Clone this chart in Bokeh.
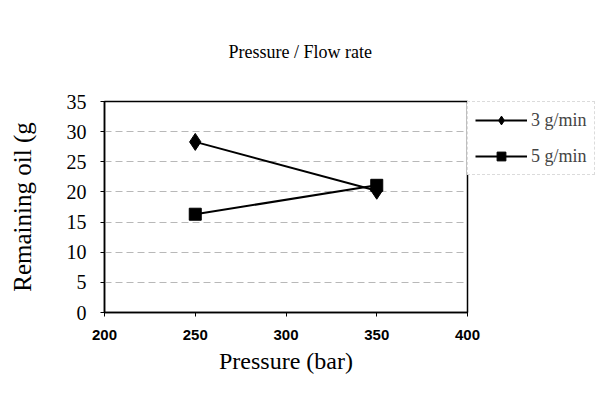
from bokeh.plotting import figure
from bokeh.models import Range1d, Legend, LegendItem, FixedTicker
from bokeh.embed import file_html
from bokeh.resources import INLINE

pressure = [250, 350]
oil_3gmin = [28.3, 20.2]
oil_5gmin = [16.3, 21.1]
x_ticks = [200, 250, 300, 350, 400]
y_ticks = [0, 5, 10, 15, 20, 25, 30, 35]

SERIF = "Liberation Serif"

p = figure(frame_width=363, frame_height=211, output_backend="svg", toolbar_location=None,
           x_range=Range1d(200, 400), y_range=Range1d(0, 35),
           min_border_left=104, min_border_right=126, min_border_top=101, min_border_bottom=65,
           title="Pressure / Flow rate")

p.title.text_font = SERIF
p.title.text_font_size = "18px"
p.title.text_font_style = "normal"
p.title.text_color = "black"
p.title.align = "left"
p.title.offset = 124
p.title.standoff = 79

p.outline_line_color = "black"
p.outline_line_width = 1.5
p.background_fill_color = "white"
p.border_fill_color = "white"

p.xgrid.visible = False
p.ygrid.ticker = FixedTicker(ticks=[5, 10, 15, 20, 25, 30])
p.ygrid.grid_line_color = "#b8b8b8"
p.ygrid.grid_line_dash = "7 4"
p.ygrid.grid_line_width = 1

p.xaxis.ticker = FixedTicker(ticks=x_ticks)
p.yaxis.ticker = FixedTicker(ticks=y_ticks)
for ax in (p.xaxis, p.yaxis):
    ax.axis_line_color = "black"
    ax.axis_line_width = 1.5
    ax.major_tick_line_color = "black"
    ax.major_tick_in = 0
    ax.major_tick_out = 4
    ax.minor_tick_line_color = None
    ax.axis_label_text_font = SERIF
    ax.axis_label_text_font_style = "normal"
    ax.axis_label_text_color = "black"
    ax.major_label_text_color = "black"

p.xaxis.major_label_text_font = "Liberation Sans"
p.xaxis.major_label_text_font_size = "15px"
p.xaxis.major_label_text_font_style = "bold"
p.xaxis.major_label_standoff = 13
p.xaxis.axis_label = "Pressure (bar)"
p.xaxis.axis_label_text_font_size = "24px"
p.xaxis.axis_label_standoff = 5

p.yaxis.major_label_text_font = SERIF
p.yaxis.major_label_text_font_size = "20px"
p.yaxis.major_label_standoff = 14
p.yaxis.axis_label = "Remaining oil (g"
p.yaxis.axis_label_text_font_size = "25px"
p.yaxis.axis_label_standoff = 28

l1 = p.line(pressure, oil_3gmin, line_color="black", line_width=2)
m1 = p.scatter(pressure, oil_3gmin, marker="diamond", size=17, fill_color="black", line_color="black")
l2 = p.line(pressure, oil_5gmin, line_color="black", line_width=2)
m2 = p.scatter(pressure, oil_5gmin, marker="square", size=12, fill_color="black", line_color="black")

legend = Legend(items=[LegendItem(label="3 g/min", renderers=[l1, m1]),
                       LegendItem(label="5 g/min", renderers=[l2, m2])],
                location="top_left")
legend.label_text_font = SERIF
legend.label_text_font_size = "18px"
legend.glyph_width = 52
legend.glyph_height = 22
legend.spacing = 14
legend.padding = 7
legend.margin = 0
legend.label_standoff = 4
legend.border_line_color = "#b8b8b8"
legend.border_line_dash = "3 3"
legend.background_fill_color = "white"
legend.background_fill_alpha = 1
p.add_layout(legend, "right")

open("out.html", "w").write(file_html(p, INLINE))
